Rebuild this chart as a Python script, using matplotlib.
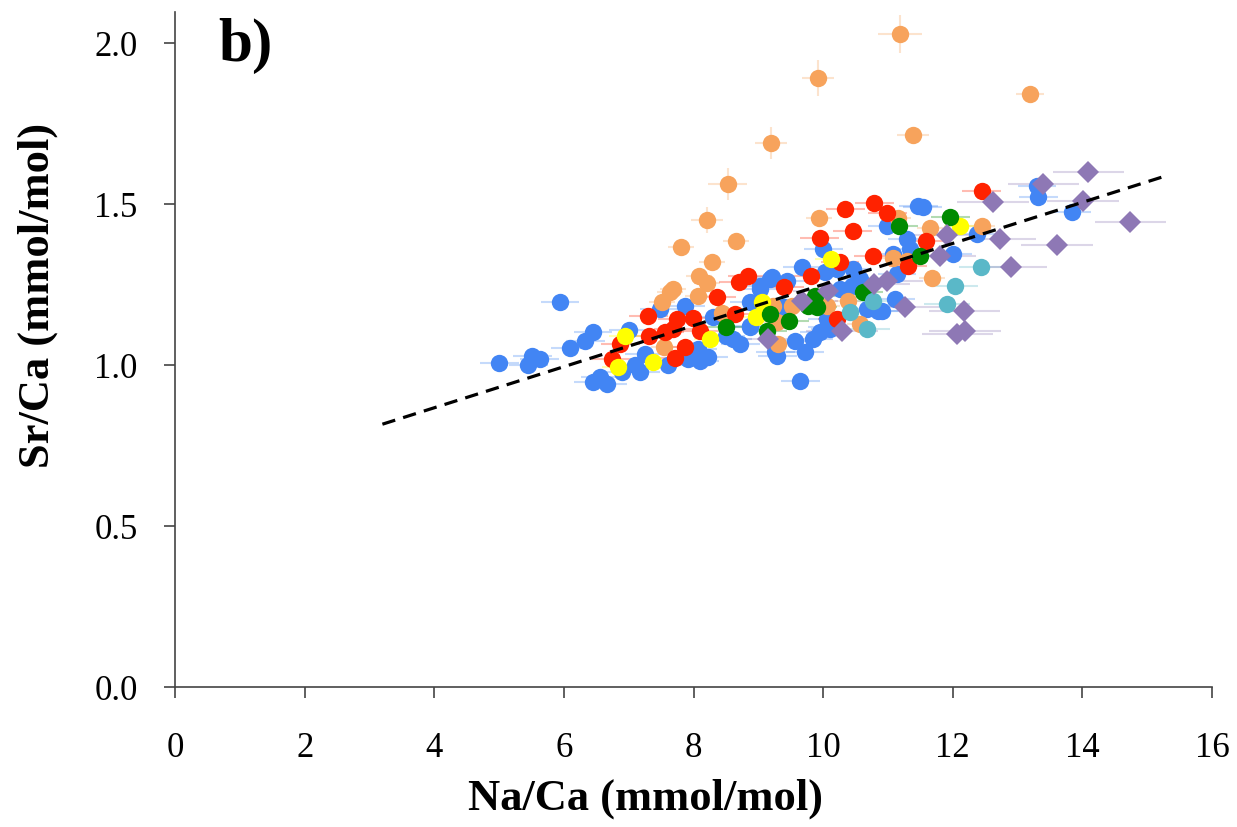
import matplotlib
matplotlib.use("Agg")
import matplotlib.pyplot as plt
import numpy as np

plt.rcParams['font.family'] = ['Liberation Serif', 'DejaVu Serif']

# ---------------- data ----------------
blue_x = [5.00, 5.45, 5.51, 5.63, 5.94, 6.10, 6.33, 6.45, 6.45, 6.56, 6.67, 6.90, 7.00, 7.18, 7.25,
          7.48, 7.87, 7.92, 8.10, 8.23, 8.07, 8.61, 8.72, 8.87, 9.03, 9.21, 9.44, 8.87, 9.26, 9.72,
          9.57, 9.85, 9.65, 9.68, 10.03, 10.22, 10.46, 10.57, 10.45, 10.68, 10.85, 10.06, 9.95, 10.11,
          11.11, 11.14, 11.30, 11.34, 11.47, 10.99, 13.30, 13.32, 13.84, 11.54, 12.00, 10.91, 12.38,
          10.26, 11.08, 10.00, 9.18, 9.03, 9.29, 8.87, 10.06, 7.10, 8.30, 8.50, 7.60, 9.40]
blue_y = [1.006, 1.000, 1.028, 1.019, 1.196, 1.053, 1.075, 1.102, 0.947, 0.963, 0.941, 0.978, 1.110, 0.978, 1.034,
          1.174, 1.183, 1.019, 1.012, 1.025, 1.050, 1.081, 1.065, 1.196, 1.245, 1.273, 1.261, 1.121, 1.040, 1.040,
          1.075, 1.081, 0.950, 1.304, 1.289, 1.298, 1.298, 1.267, 1.245, 1.174, 1.168, 1.143, 1.102, 1.112,
          1.205, 1.283, 1.391, 1.360, 1.494, 1.432, 1.556, 1.522, 1.475, 1.491, 1.345, 1.168, 1.407,
          1.236, 1.345, 1.360, 1.267, 1.236, 1.028, 1.118, 1.118, 1.000, 1.150, 1.090, 1.000, 1.180]

red_x = [6.74, 6.87, 7.30, 7.31, 7.75, 7.69, 7.56, 7.99, 8.10, 7.72, 7.87, 8.36, 8.70, 8.84, 8.64,
         9.40, 9.81, 9.95, 10.34, 10.46, 10.79, 10.99, 10.77, 10.26, 10.22, 12.45, 11.59, 11.31]
red_y = [1.019, 1.065, 1.152, 1.090, 1.143, 1.112, 1.102, 1.146, 1.106, 1.022, 1.056, 1.211, 1.258, 1.276, 1.158,
         1.242, 1.276, 1.394, 1.484, 1.416, 1.503, 1.472, 1.338, 1.320, 1.143, 1.540, 1.385, 1.307]

orange_x = [8.53, 8.21, 8.66, 7.81, 8.29, 8.09, 8.21, 7.69, 7.64, 8.07, 7.52, 8.44, 7.55, 9.94, 11.16,
            11.08, 11.30, 9.52, 9.23, 9.29, 9.30, 10.06, 10.39, 10.57, 12.45, 11.65, 11.68, 11.39,
            11.19, 9.92, 13.19, 9.20]
orange_y = [1.562, 1.450, 1.385, 1.366, 1.320, 1.276, 1.255, 1.236, 1.227, 1.214, 1.196, 1.161, 1.056, 1.457, 1.457,
            1.332, 1.323, 1.183, 1.183, 1.133, 1.065, 1.183, 1.199, 1.127, 1.432, 1.425, 1.270, 1.714,
            2.028, 1.891, 1.842, 1.689]
orange_xerr = [0.30, 0.25, 0.20, 0.20, 0.20, 0.20, 0.20, 0.20, 0.20, 0.20, 0.20, 0.20, 0.20, 0.20, 0.20,
               0.20, 0.20, 0.20, 0.20, 0.20, 0.20, 0.20, 0.20, 0.20, 0.20, 0.20, 0.20, 0.25,
               0.34, 0.25, 0.22, 0.25]
orange_yerr = [0.050, 0.040, 0.020, 0.020, 0.020, 0.020, 0.020, 0.020, 0.020, 0.020, 0.020, 0.020, 0.020, 0.020, 0.020,
               0.020, 0.020, 0.020, 0.020, 0.020, 0.020, 0.020, 0.020, 0.020, 0.020, 0.020, 0.020, 0.025,
               0.060, 0.055, 0.020, 0.050]

yellow_x = [6.94, 6.84, 7.38, 8.26, 9.06, 8.97, 10.12, 12.11]
yellow_y = [1.090, 0.994, 1.009, 1.081, 1.196, 1.149, 1.329, 1.432]

green_x = [8.50, 9.18, 9.14, 9.48, 9.88, 9.91, 9.77, 10.62, 11.17, 11.96, 11.50]
green_y = [1.118, 1.158, 1.106, 1.137, 1.214, 1.180, 1.183, 1.227, 1.432, 1.460, 1.339]

teal_x = [10.42, 10.77, 10.68, 12.44, 12.04, 11.91]
teal_y = [1.164, 1.199, 1.112, 1.304, 1.245, 1.189]

purple_x = [9.68, 10.08, 9.15, 10.29, 10.79, 10.99, 11.27, 14.09, 13.40, 12.62, 14.01, 14.74, 12.73,
            11.91, 11.81, 13.61, 12.90, 12.18, 12.07, 12.19]
purple_y = [1.199, 1.230, 1.081, 1.106, 1.252, 1.261, 1.180, 1.600, 1.562, 1.506, 1.509, 1.444, 1.391,
            1.404, 1.339, 1.373, 1.304, 1.168, 1.096, 1.106]

fit_slope = 0.0638
fit_intercept = 0.612
fit_range = [3.2, 15.3]

x_ticks = [0, 2, 4, 6, 8, 10, 12, 14, 16]
y_ticks = [0.0, 0.5, 1.0, 1.5, 2.0]
y_tick_labels = ["0.0", "0.5", "1.0", "1.5", "2.0"]

# ---------------- figure ----------------
W, H = 1237, 828
fig = plt.figure(figsize=(W / 100, H / 100), dpi=100)
ax = fig.add_axes([175 / W, 1 - 688 / H, (1212 - 175) / W, (688 - 13) / H])

series = [
    (blue_x, blue_y, 0.30, 0.020, '#4285F4', 'o'),
    (orange_x, orange_y, orange_xerr, orange_yerr, '#F7A35C', 'o'),
    (red_x, red_y, 0.30, 0.020, '#FF2200', 'o'),
    (yellow_x, yellow_y, 0.25, 0.015, '#FFFF00', 'o'),
    (green_x, green_y, 0.30, 0.015, '#008A00', 'o'),
    (teal_x, teal_y, 0.35, 0.015, '#5AB8C8', 'o'),
    (purple_x, purple_y, 0.55, 0.030, '#8E78B5', 'D'),
]

for xs, ys, xe, ye, col, mk in series:
    ax.errorbar(xs, ys, xerr=xe, yerr=ye, fmt='none', ecolor=col, alpha=0.3,
                elinewidth=1.5, capsize=0, zorder=2)
for xs, ys, xe, ye, col, mk in series:
    ms = 12.5 if mk == 'o' else 11.5
    ax.plot(xs, ys, linestyle='none', marker=mk, markersize=ms, color=col,
            markeredgewidth=0, zorder=3)

fx = np.array(fit_range)
ax.plot(fx, fit_slope * fx + fit_intercept, color='black', lw=2.3,
        linestyle=(0, (4.2, 2.6)), zorder=4)

ax.set_xlim(0, 16)
ax.set_ylim(0, 2.0 + 31 / 322)
ax.set_xticks(x_ticks)
ax.set_yticks(y_ticks)
ax.set_yticklabels(y_tick_labels)

for s in ['top', 'right']:
    ax.spines[s].set_visible(False)
for s in ['left', 'bottom']:
    ax.spines[s].set_color('#444444')
    ax.spines[s].set_linewidth(1.2)

ax.tick_params(axis='x', direction='out', length=8, width=1.2, color='#444444',
               labelsize=25, pad=24)
ax.tick_params(axis='y', direction='out', length=8, width=1.2, color='#444444',
               labelsize=25, pad=19)

ax.set_xlabel('Na/Ca (mmol/mol)', fontsize=32, fontweight='bold')
ax.xaxis.set_label_coords((646 - 175) / 1037, (688 - 779) / 675)
ax.set_ylabel('Sr/Ca (mmol/mol)', fontsize=32, fontweight='bold')
ax.yaxis.set_label_coords((58 - 175) / 1037, (688 - 295) / 675)

ax.text(218 / W, 1 - 46 / H, 'b)', transform=fig.transFigure, fontsize=44,
        fontweight='bold', ha='left', va='center')

fig.savefig('out.png', dpi=100)
